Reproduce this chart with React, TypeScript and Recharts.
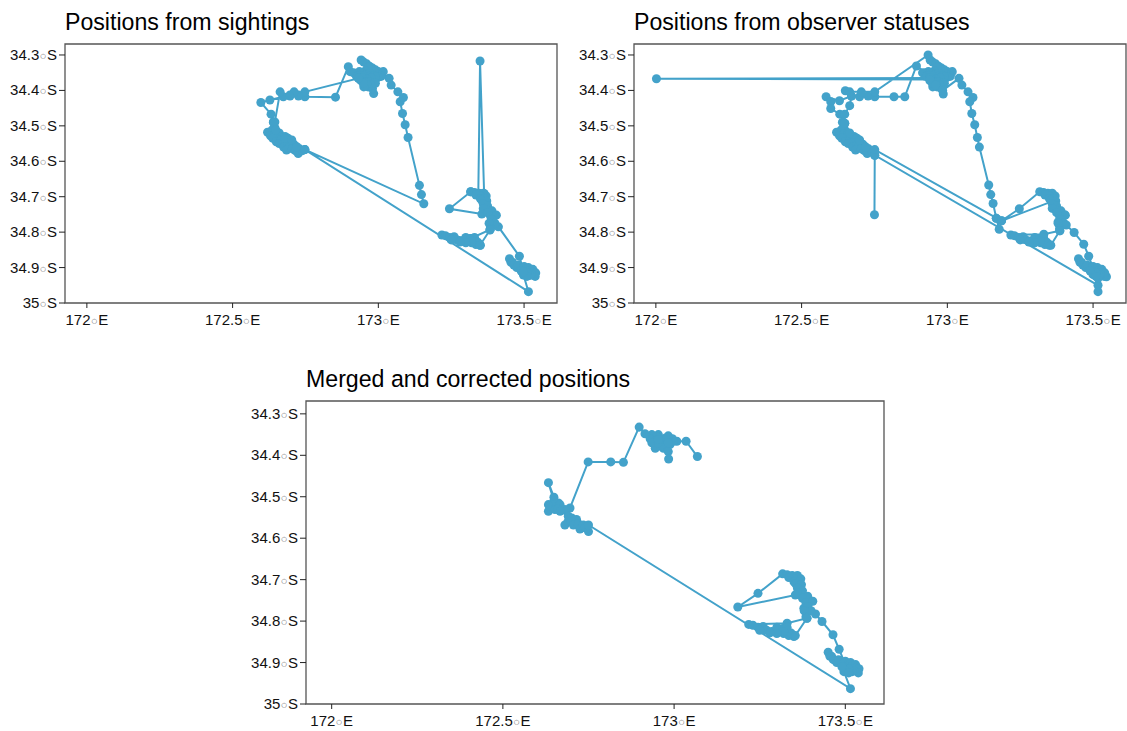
import { ScatterChart, Scatter, XAxis, YAxis, ZAxis, ReferenceArea } from "recharts";

const LON_TICKS = [172, 172.5, 173, 173.5];
const LAT_TICKS = [34.3, 34.4, 34.5, 34.6, 34.7, 34.8, 34.9, 35];

// [lon, lat]; the dense stretches come up in more than one panel
const NORTH_BAY: [number, number][] = [
  [172.941, 34.314], [172.95, 34.32], [172.96, 34.325], [172.97, 34.332], [172.98, 34.337], [172.99, 34.342],
  [173.0, 34.347], [173.012, 34.352], [173.017, 34.347], [173.01, 34.36], [173.005, 34.36], [172.995, 34.352],
  [172.985, 34.346], [172.975, 34.34], [172.965, 34.335], [172.955, 34.345], [172.945, 34.35], [172.935, 34.347],
  [172.925, 34.352], [172.915, 34.35], [172.925, 34.36], [172.93, 34.36], [172.94, 34.358], [172.955, 34.357],
  [172.97, 34.352], [172.975, 34.358], [172.985, 34.358], [173.0, 34.362], [172.99, 34.362], [172.99, 34.37],
  [172.975, 34.365], [172.96, 34.368], [172.945, 34.365], [172.94, 34.372], [172.955, 34.377], [172.965, 34.375],
  [172.97, 34.376], [172.985, 34.378], [172.99, 34.38], [172.975, 34.385], [172.965, 34.39], [172.96, 34.384],
  [172.95, 34.39], [172.949, 34.38],
];

const WEST_COAST: [number, number][] = [
  [172.64, 34.49], [172.645, 34.505], [172.65, 34.515], [172.635, 34.512], [172.62, 34.518], [172.63, 34.528],
  [172.645, 34.522], [172.66, 34.52], [172.668, 34.53], [172.652, 34.535], [172.638, 34.535], [172.65, 34.545],
  [172.665, 34.54], [172.68, 34.53], [172.69, 34.535], [172.675, 34.548], [172.66, 34.55], [172.675, 34.56],
  [172.69, 34.553], [172.7, 34.545], [172.71, 34.552], [172.695, 34.56], [172.685, 34.568], [172.705, 34.565],
  [172.72, 34.56], [172.73, 34.565], [172.715, 34.57], [172.725, 34.578], [172.74, 34.57],
];

const SOUTH_EAST: [number, number][] = [
  [173.45, 34.875], [173.455, 34.885], [173.46, 34.885], [173.465, 34.893], [173.475, 34.9], [173.48, 34.893],
  [173.49, 34.905], [173.5, 34.897], [173.505, 34.906], [173.515, 34.9], [173.52, 34.908], [173.53, 34.905],
  [173.53, 34.913], [173.54, 34.915], [173.538, 34.925], [173.525, 34.92], [173.52, 34.922], [173.51, 34.915],
  [173.5, 34.92], [173.49, 34.91], [173.51, 34.925],
];

const EAST_BAND: [number, number][] = [
  [173.317, 34.686], [173.33, 34.688], [173.345, 34.69], [173.36, 34.69], [173.37, 34.698], [173.35, 34.698],
  [173.335, 34.695], [173.35, 34.705], [173.365, 34.705], [173.355, 34.71], [173.372, 34.712], [173.36, 34.72],
  [173.375, 34.727], [173.36, 34.733], [173.39, 34.74], [173.375, 34.745], [173.385, 34.755], [173.405, 34.752],
  [173.39, 34.765], [173.4, 34.775], [173.38, 34.775], [173.385, 34.79],
];

const LOW_BAND: [number, number][] = [
  [173.218, 34.808], [173.23, 34.81], [173.245, 34.815], [173.26, 34.82], [173.26, 34.813], [173.27, 34.822],
  [173.285, 34.825], [173.3, 34.823], [173.3, 34.815], [173.317, 34.818], [173.33, 34.815], [173.32, 34.83],
  [173.335, 34.835], [173.345, 34.832], [173.35, 34.837], [173.34, 34.828], [173.32, 34.825], [173.3, 34.83],
  [173.28, 34.828], [173.25, 34.822],
];

const MERGED_NORTH: [number, number][] = [
  [173.035, 34.366], [173.008, 34.366], [172.998, 34.366], [172.995, 34.36], [172.983, 34.353], [172.975, 34.358],
  [172.969, 34.362], [172.954, 34.35], [172.95, 34.355], [172.935, 34.35], [172.93, 34.36], [172.945, 34.366],
  [172.969, 34.37], [172.988, 34.374], [172.975, 34.375], [172.969, 34.383], [172.96, 34.378], [172.945, 34.383],
  [172.935, 34.37], [172.954, 34.37], [172.983, 34.391], [172.984, 34.409], [172.983, 34.37], [172.954, 34.362],
  [172.915, 34.348],
];

const MERGED_WEST: [number, number][] = [
  [172.696, 34.527], [172.681, 34.531], [172.662, 34.515], [172.649, 34.501], [172.633, 34.466], [172.649, 34.51],
  [172.633, 34.519], [172.633, 34.535], [172.647, 34.519], [172.637, 34.523], [172.655, 34.525], [172.652, 34.531],
  [172.667, 34.519], [172.66, 34.53], [172.667, 34.535], [172.691, 34.547], [172.681, 34.568], [172.701, 34.551],
  [172.69, 34.56], [172.715, 34.555], [172.7, 34.56], [172.706, 34.568], [172.72, 34.565], [172.725, 34.578],
  [172.735, 34.568], [172.74, 34.575], [172.75, 34.584],
];

const SIGHTINGS: [number, number][] = [
  [172.984, 34.409], [172.98, 34.395], [172.971, 34.385], [172.949, 34.38], [172.932, 34.366], [172.903, 34.347],
  [172.897, 34.333], [172.853, 34.419], [172.748, 34.418], [172.726, 34.416], [172.697, 34.413], [172.674, 34.418],
  [172.628, 34.427], [172.597, 34.434], [172.632, 34.467], [172.64, 34.489], ...WEST_COAST, [172.748, 34.567],
  [173.156, 34.72], [173.148, 34.694], [173.141, 34.668], [173.102, 34.533], [173.092, 34.497], [173.083, 34.465],
  [173.075, 34.432], [173.086, 34.42], [173.067, 34.404], [173.044, 34.385], [173.037, 34.366], [173.012, 34.352],
  ...NORTH_BAY, [172.932, 34.366], [172.748, 34.404], [172.726, 34.413], [172.711, 34.404], [172.697, 34.416],
  [172.663, 34.404], [172.645, 34.489], [172.648, 34.512], [172.68, 34.536], [172.703, 34.54], [172.72, 34.559],
  [172.748, 34.567], [173.515, 34.968], [173.498, 34.921], ...SOUTH_EAST, [173.498, 34.912], [173.484, 34.868],
  [173.412, 34.785], [173.389, 34.771], [173.395, 34.752], [173.372, 34.743], [173.355, 34.749], [173.244, 34.734],
  [173.317, 34.686], [173.343, 34.691], [173.349, 34.317], [173.363, 34.691], ...EAST_BAND, [173.383, 34.793],
  [173.317, 34.818], ...LOW_BAND, [173.349, 34.837], [173.383, 34.794],
];

const OBSERVER: [number, number][] = [
  [172.986, 34.41], [172.98, 34.395], [172.95, 34.38], [172.925, 34.35], [172.894, 34.331], [172.854, 34.418],
  [172.817, 34.418], [172.751, 34.418], [172.728, 34.416], [172.699, 34.418], [172.671, 34.416], [172.63, 34.429],
  [172.584, 34.418], [172.6, 34.432], [172.6, 34.451], [172.631, 34.467], [172.648, 34.493], ...WEST_COAST,
  [172.751, 34.583], [172.75, 34.751], [172.751, 34.583], [173.517, 34.95], [173.517, 34.968], [173.517, 34.93],
  [173.546, 34.926], ...SOUTH_EAST, [173.485, 34.868], [173.468, 34.834], [173.435, 34.801], [173.408, 34.78],
  [173.38, 34.771], [173.403, 34.752], [173.386, 34.747], [173.357, 34.714], [173.186, 34.768], [172.751, 34.567],
  [172.72, 34.56], [172.699, 34.54], [172.665, 34.52], [172.648, 34.493], [172.648, 34.467], [172.665, 34.443],
  [172.671, 34.416], [172.65, 34.401], [172.665, 34.404], [172.705, 34.404], [172.751, 34.404], [172.934, 34.3],
  ...NORTH_BAY, [172.94, 34.365], [172.002, 34.367], [172.94, 34.369], [172.96, 34.385], [172.984, 34.4],
  [173.04, 34.366], [173.05, 34.385], [173.071, 34.404], [173.088, 34.42], [173.077, 34.432], [173.084, 34.465],
  [173.094, 34.497], [173.103, 34.533], [173.11, 34.56], [173.142, 34.667], [173.149, 34.694], [173.157, 34.719],
  [173.168, 34.761], [173.178, 34.792], [173.168, 34.761], [173.186, 34.768], [173.247, 34.734], ...EAST_BAND,
  [173.386, 34.796], [173.331, 34.806], ...LOW_BAND, [173.355, 34.837], [173.386, 34.796],
];

const MERGED: [number, number][] = [
  [173.068, 34.403], ...MERGED_NORTH, [172.898, 34.332], [172.852, 34.417], [172.815, 34.416], [172.749, 34.416],
  ...MERGED_WEST, [172.75, 34.568], [173.515, 34.963], [173.496, 34.922], ...SOUTH_EAST, [173.482, 34.868],
  [173.464, 34.833], [173.432, 34.801], [173.413, 34.783], [173.379, 34.769], [173.398, 34.753], [173.354, 34.737],
  [173.186, 34.766], [173.245, 34.733], ...EAST_BAND, [173.388, 34.793], [173.33, 34.805], ...LOW_BAND,
  [173.354, 34.835], [173.388, 34.793],
];

const BLUE = "#43A2CA";
const DARK = "#222";

function degreeLabel(x: number, y: number, anchor: string, value: number, hemi: string, dy: number) {
  return (
    <text x={x} y={y} dy={dy} textAnchor={anchor} fontFamily="Liberation Sans" fontSize={15} fill="#111">
      {value}
      <tspan dx={1} dy={-2} fontFamily="DejaVu Sans" fontSize={6.5} fill="#555">○</tspan>
      <tspan dx={1} dy={2}>{hemi}</tspan>
    </text>
  );
}

function LonTick({ x, y, payload }: any) {
  return degreeLabel(x, y, "middle", payload.value, "E", 15);
}

function LatTick({ x, y, payload }: any) {
  return degreeLabel(x, y, "end", payload.value, "S", 5);
}

function TrackPanel({ title, track, left, top, width, height }: any) {
  const data = track.map(([lon, lat]: [number, number]) => ({ lon, lat }));
  return (
    <div style={{ position: "absolute", left: left - 65, top }}>
      <div
        style={{
          position: "absolute",
          left: 65,
          top: 8,
          fontFamily: "Liberation Sans",
          fontSize: 23.15,
          lineHeight: "28px",
          color: "#000",
          whiteSpace: "nowrap",
        }}
      >
        {title}
      </div>
      <ScatterChart
        width={width + 65 + 6}
        height={height + 44 + 30}
        margin={{ top: 44, right: 6, bottom: 0, left: 0 }}
      >
        <XAxis
          type="number"
          dataKey="lon"
          domain={[171.925, 173.613]}
          ticks={LON_TICKS}
          tick={LonTick}
          tickSize={5}
          height={30}
          interval={0}
          axisLine={false}
          tickLine={{ stroke: DARK, strokeWidth: 1 }}
        />
        <YAxis
          type="number"
          dataKey="lat"
          reversed
          domain={[34.269, 35]}
          ticks={LAT_TICKS}
          tick={LatTick}
          tickSize={6}
          width={65}
          interval={0}
          axisLine={false}
          tickLine={{ stroke: DARK, strokeWidth: 1 }}
        />
        <ZAxis range={[64, 64]} />
        <ReferenceArea
          x1={171.925}
          x2={173.613}
          y1={34.269}
          y2={35}
          fill="none"
          stroke="#555"
          strokeWidth={1.3}
        />
        <Scatter
          data={data}
          fill={BLUE}
          line={{ stroke: BLUE, strokeWidth: 2 }}
          isAnimationActive={false}
        />
      </ScatterChart>
    </div>
  );
}

export default function App() {
  return (
    <div style={{ position: "absolute", left: 0, top: 0, width: 1127, height: 731, background: "#fff" }}>
      <TrackPanel title="Positions from sightings" track={SIGHTINGS} left={65} top={0} width={492} height={259} />
      <TrackPanel title="Positions from observer statuses" track={OBSERVER} left={634} top={0} width={492} height={259} />
      <TrackPanel title="Merged and corrected positions" track={MERGED} left={306} top={357} width={578} height={303} />
    </div>
  );
}
